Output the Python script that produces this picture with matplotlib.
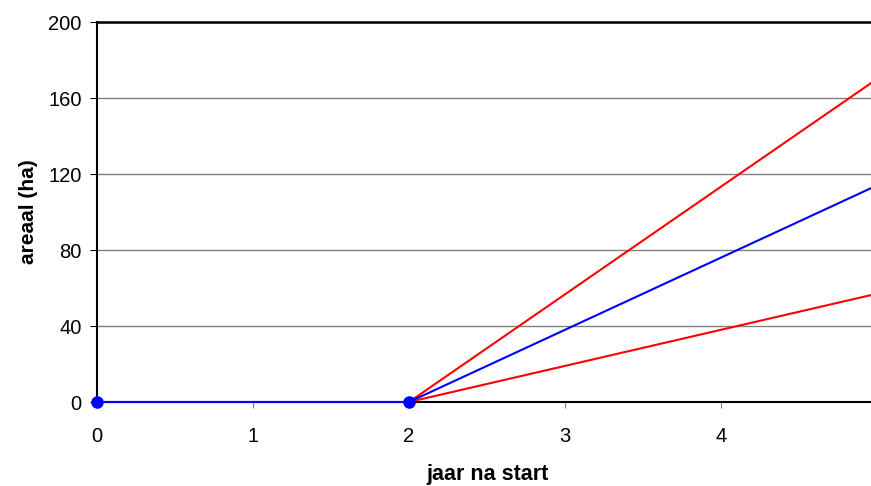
import matplotlib
matplotlib.use('Agg')
import matplotlib.pyplot as plt

plt.rcParams['font.family'] = ['Liberation Sans', 'DejaVu Sans']

# data
jaar = [0, 2, 5]
areaal_mid = [0, 0, 114]
jaar_band = [2, 5]
areaal_hoog = [0, 170]
areaal_laag = [0, 57]

fig = plt.figure(figsize=(8.71, 4.86), dpi=100)
ax = fig.add_axes([97 / 871, 84 / 486, 780 / 871, 380 / 486])

ax.plot(jaar_band, areaal_hoog, color='red', lw=1.5, marker='o', ms=7, mfc='blue', mec='blue', clip_on=False)
ax.plot(jaar_band, areaal_laag, color='red', lw=1.5, marker='o', ms=7, mfc='blue', mec='blue', clip_on=False)
ax.plot(jaar, areaal_mid, color='blue', lw=1.5, marker='o', ms=8, clip_on=False, zorder=5)

ax.set_xlim(0, 5)
ax.set_ylim(0, 200)
ax.set_yticks([0, 40, 80, 120, 160, 200])
ax.set_xticks([0, 1, 2, 3, 4, 5])
ax.yaxis.grid(True, color='#808080', lw=1)
ax.set_axisbelow(True)

ax.spines['right'].set_visible(False)
ax.spines['top'].set_linewidth(1.8)
ax.spines['left'].set_linewidth(1.5)
ax.spines['bottom'].set_linewidth(1.5)

ax.tick_params(axis='y', direction='out', length=5, labelsize=14.5, pad=6)
ax.tick_params(axis='x', direction='out', length=4, color='#808080', labelsize=14.5, pad=14)

ax.set_xlabel('jaar na start', fontsize=15.5, fontweight='bold', labelpad=13)
ax.set_ylabel('areaal (ha)', fontsize=15, fontweight='bold', labelpad=7)

fig.savefig('out.png', dpi=100)
